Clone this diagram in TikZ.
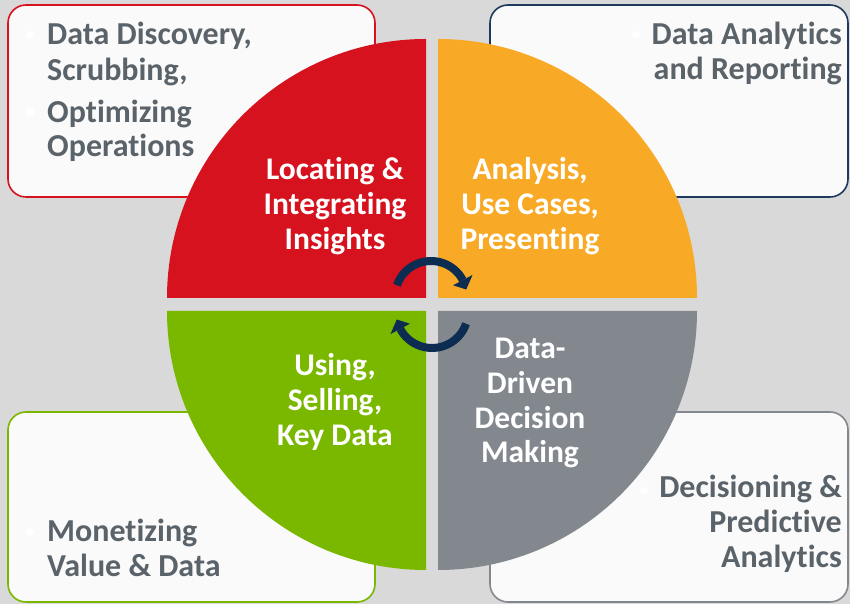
\documentclass[tikz,border=0pt]{standalone}
\usepackage{fontspec}
\setmainfont[Ligatures=NoCommon]{Carlito}
\definecolor{bg}{HTML}{D9D9D9}
\definecolor{boxfill}{HTML}{FAFAFA}
\definecolor{txtgray}{HTML}{5B636A}
\definecolor{cred}{HTML}{D6121F}
\definecolor{corange}{HTML}{F8AA27}
\definecolor{cgreen}{HTML}{7AB800}
\definecolor{cgray}{HTML}{82888E}
\definecolor{cnavy}{HTML}{0C2C52}
\definecolor{cnavyb}{HTML}{1F3A5F}
\begin{document}
\begin{tikzpicture}[x=1pt,y=1pt,
  box/.style={rounded corners=18pt, line width=1.6pt, fill=boxfill, inner sep=0pt},
  boxtxt/.style={font=\bfseries\fontsize{32}{36}\selectfont, text=txtgray, inner sep=0pt},
  qtxt/.style={font=\bfseries\fontsize{31.5}{36}\selectfont, text=white, inner sep=0pt, anchor=base},
  bulletdot/.style={circle, fill=white, inner sep=0pt, minimum size=8pt},
  cycarrow/.style={cnavy, line width=8pt}]
\useasboundingbox (0,0) rectangle (850,604);
\fill[bg] (0,0) rectangle (850,604);

% corner boxes
\node[box, draw=cred, minimum width=367pt, minimum height=192pt] (tl) at (191.5,503) {};
\node[box, draw=cnavyb, minimum width=358pt, minimum height=192pt] (tr) at (669,503) {};
\node[box, draw=cgreen, minimum width=367pt, minimum height=190pt] (bl) at (191.5,97) {};
\node[box, draw=cgray, minimum width=358pt, minimum height=190pt] (br) at (669,97) {};

% quadrants
\fill[cred] (426,306) -- (167,306) arc[start angle=180, end angle=90, radius=259] -- cycle;
\fill[corange] (438,306) -- (438,565) arc[start angle=90, end angle=0, radius=259] -- cycle;
\fill[cgreen] (426,293) -- (167,293) arc[start angle=180, end angle=270, radius=259] -- cycle;
\fill[cgray] (438,293) -- (697,293) arc[start angle=0, end angle=-90, radius=259] -- cycle;

% box texts
\node[bulletdot] (b1) at (30,569) {};
\node[bulletdot] (b2) at (30,492) {};
\node[boxtxt, anchor=base west] (tl1) at (47,559) {Data Discovery,};
\node[boxtxt, anchor=base west] (tl2) at (47,523) {Scrubbing,};
\node[boxtxt, anchor=base west] (tl3) at (47,481) {Optimizing};
\node[boxtxt, anchor=base west] (tl4) at (47,447) {Operations};

\node[bulletdot] (b3) at (636,569) {};
\node[boxtxt, anchor=base east] (tr1) at (842,559) {Data Analytics};
\node[boxtxt, anchor=base east] (tr2) at (842,524) {and Reporting};

\node[bulletdot] (b4) at (30,72) {};
\node[boxtxt, anchor=base west] (bl1) at (47,62) {Monetizing};
\node[boxtxt, anchor=base west] (bl2) at (47,27) {Value \& Data};

\node[bulletdot] (b5) at (644,113) {};
\node[boxtxt, anchor=base east] (br1) at (842,106) {Decisioning \&};
\node[boxtxt, anchor=base east] (br2) at (842,71) {Predictive};
\node[boxtxt, anchor=base east] (br3) at (842,36) {Analytics};

% quadrant texts
\node[qtxt] (r1) at (335,424) {Locating \&};
\node[qtxt] (r2) at (335,389) {Integrating};
\node[qtxt] (r3) at (335,354) {Insights};
\node[qtxt] (o1) at (530,424) {Analysis,};
\node[qtxt] (o2) at (530,389) {Use Cases,};
\node[qtxt] (o3) at (530,354) {Presenting};
\node[qtxt] (g1) at (335,228) {Using,};
\node[qtxt] (g2) at (335,193) {Selling,};
\node[qtxt] (g3) at (335,158) {Key Data};
\node[qtxt] (y1) at (530,245) {Data-};
\node[qtxt] (y2) at (530,210) {Driven};
\node[qtxt] (y3) at (530,175) {Decision};
\node[qtxt] (y4) at (530,141) {Making};

% cycle arrows
\coordinate (c1) at (431,307);
\coordinate (c2) at (432,292);
\draw[cycarrow] ([shift={(161:36)}]c1) arc[start angle=161, end angle=28, radius=36];
\fill[cnavy] ([shift={(28:25)}]c1) -- ([shift={(28:47)}]c1) -- ([shift={(12:36)}]c1) -- cycle;
\draw[cycarrow] ([shift={(-19:36)}]c2) arc[start angle=-19, end angle=-152, radius=36];
\fill[cnavy] ([shift={(-152:25)}]c2) -- ([shift={(-152:47)}]c2) -- ([shift={(-168:36)}]c2) -- cycle;
\end{tikzpicture}
\end{document}
